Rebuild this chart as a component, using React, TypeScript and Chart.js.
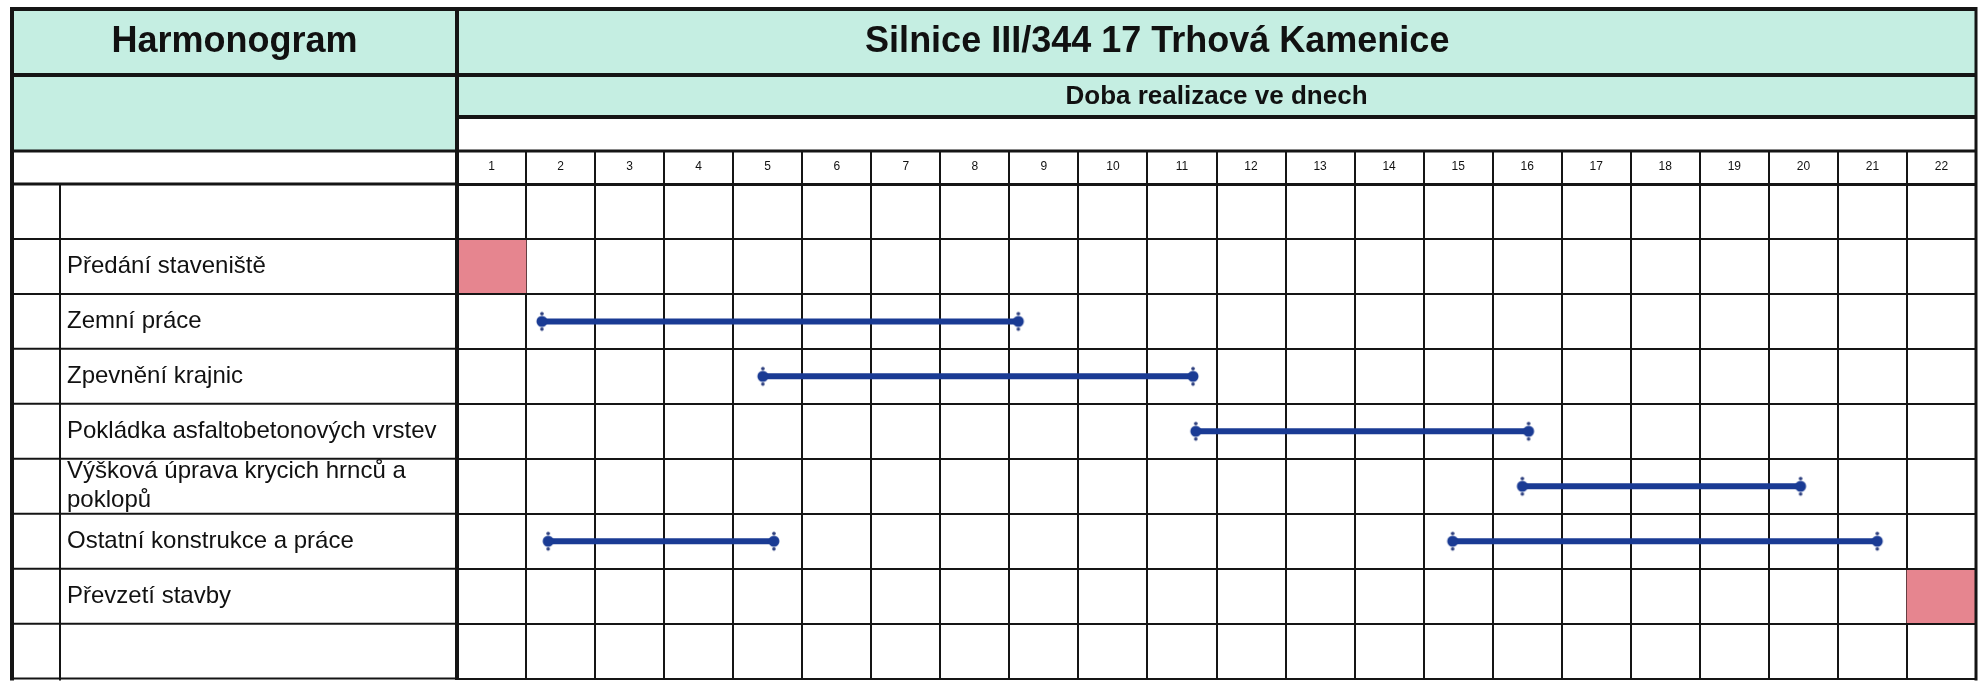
import React, { useEffect, useRef } from 'react';
import { Chart, registerables } from 'chart.js';

Chart.register(...registerables);

// ---------- data ----------
const leftHeader = 'Harmonogram';
const chartTitle = 'Silnice III/344 17 Trhová Kamenice';
const subTitle = 'Doba realizace ve dnech';

const dayLabels = ['1', '2', '3', '4', '5', '6', '7', '8', '9', '10', '11', '12', '13', '14', '15', '16', '17', '18', '19', '20', '21', '22'];

const rowLabels = [
  '',
  'Předání staveniště',
  'Zemní práce',
  'Zpevnění krajnic',
  'Pokládka asfaltobetonových vrstev',
  'Výšková úprava krycich hrnců a\npoklopů',
  'Ostatní konstrukce a práce',
  'Převzetí stavby',
  ' ',
];

// line (activity) bars: row, start day-position, end day-position
const barTasks = [
  'Zemní práce',
  'Zpevnění krajnic',
  'Pokládka asfaltobetonových vrstev',
  'Výšková úprava krycich hrnců a\npoklopů',
  'Ostatní konstrukce a práce',
  'Ostatní konstrukce a práce',
];
const barStarts = [1.23, 4.43, 10.7, 15.43, 1.32, 14.42];
const barEnds = [8.13, 10.66, 15.52, 19.46, 4.59, 20.57];

// filled milestone cells
const milestoneTasks = ['Předání staveniště', 'Převzetí stavby'];
const milestoneStarts = [0, 21];
const milestoneEnds = [1, 22];

// ---------- styles ----------
const FONT = '"Liberation Sans", Arial, Helvetica, sans-serif';
const TEAL = '#c5eee2';
const PINK = '#e6858f';
const BLUE = '#1a3b94';
const INK = '#151515';

Chart.defaults.font.family = FONT;

function makeMarker(): HTMLCanvasElement {
  const mk = document.createElement('canvas');
  mk.width = 16;
  mk.height = 22;
  const c = mk.getContext('2d')!;
  c.fillStyle = BLUE;
  c.beginPath();
  c.arc(8, 11, 5.5, 0, Math.PI * 2);
  c.fill();
  c.fillStyle = '#2d3f7e';
  c.beginPath();
  c.arc(8, 3.2, 1.8, 0, Math.PI * 2);
  c.fill();
  c.beginPath();
  c.arc(8, 18.8, 1.8, 0, Math.PI * 2);
  c.fill();
  return mk;
}

const tablePlugin = {
  id: 'tableFrame',
  beforeDraw(chart: any) {
    const { ctx, width, height, chartArea } = chart;
    const L = 12;
    const M = chartArea.left;
    const R = chartArea.right;
    ctx.save();
    ctx.fillStyle = '#ffffff';
    ctx.fillRect(0, 0, width, height);
    ctx.fillStyle = TEAL;
    ctx.fillRect(L, 8, M - L, 151 - 8);
    ctx.fillRect(M, 8, R - M, 117 - 8);
    ctx.restore();
  },
  afterDraw(chart: any) {
    const { ctx, chartArea } = chart;
    const yScale = chart.scales.y;
    const L = 12;
    const M = chartArea.left;
    const R = chartArea.right;
    const B = chartArea.bottom;
    const T = chartArea.top;
    ctx.save();
    ctx.strokeStyle = INK;
    const line = (x1: number, y1: number, x2: number, y2: number, w: number) => {
      ctx.lineWidth = w;
      ctx.beginPath();
      ctx.moveTo(x1, y1);
      ctx.lineTo(x2, y2);
      ctx.stroke();
    };
    // header horizontal lines
    line(L - 2, 9, R + 1, 9, 4);
    line(L, 75, R, 75, 4);
    line(M, 117, R, 117, 4);
    line(L, 151, R, 151, 3);
    // verticals
    line(L, 7, L, B + 2, 4);
    line(M, 7, M, T, 4);
    line(R, 7, R, B + 2, 3);
    line(60, T, 60, B + 2, 2);
    // left-column row separators from the y scale
    for (let i = 0; i <= rowLabels.length; i++) {
      const y = yScale.getPixelForValue(i - 0.5);
      line(L, y, M, y, i === 0 ? 3 : 2);
    }
    // header texts
    ctx.fillStyle = '#111';
    ctx.textAlign = 'center';
    ctx.textBaseline = 'middle';
    ctx.font = `bold 36px ${FONT}`;
    ctx.fillText(leftHeader, (L + M) / 2, 42);
    ctx.fillText(chartTitle, M + (R - M) * 0.461, 42);
    ctx.font = `bold 26px ${FONT}`;
    ctx.fillText(subTitle, (M + R) / 2, 97);
    ctx.restore();
  },
};

export default function App() {
  const ref = useRef<HTMLCanvasElement>(null);

  useEffect(() => {
    if (!ref.current) return;
    const marker = makeMarker();
    const gridColor = (ctx: any) =>
      ctx.tick && Number.isInteger(ctx.tick.value) ? INK : 'rgba(0,0,0,0)';

    const datasets: any[] = [
      {
        type: 'bar',
        indexAxis: 'y',
        data: milestoneTasks.map((t, i) => ({ x: [milestoneStarts[i], milestoneEnds[i]], y: t })),
        backgroundColor: PINK,
        borderWidth: 0,
        barPercentage: 1,
        categoryPercentage: 1,
        order: 2,
      },
      ...barTasks.map((t, i) => ({
        type: 'line',
        data: [
          { x: barStarts[i], y: t },
          { x: barEnds[i], y: t },
        ],
        borderColor: BLUE,
        backgroundColor: BLUE,
        borderWidth: 6,
        borderCapStyle: 'butt',
        pointStyle: marker,
        pointRadius: 6,
        fill: false,
        tension: 0,
        order: 1,
      })),
    ];

    const chart = new Chart(ref.current, {
      type: 'line',
      data: { datasets },
      options: {
        animation: false,
        responsive: false,
        events: [],
        layout: { padding: { top: 151, left: 67, right: 1, bottom: 1 } },
        plugins: {
          legend: { display: false },
          tooltip: { enabled: false },
          title: { display: false },
        },
        scales: {
          x: {
            type: 'linear',
            position: 'top',
            min: 0,
            max: dayLabels.length,
            afterBuildTicks: (s: any) => {
              const t: any[] = [];
              for (let i = 0; i <= dayLabels.length; i++) {
                t.push({ value: i });
                if (i < dayLabels.length) t.push({ value: i + 0.5 });
              }
              s.ticks = t;
            },
            afterFit: (s: any) => {
              s.height = 33;
            },
            grid: {
              color: gridColor,
              tickColor: gridColor,
              lineWidth: 2,
              tickWidth: 2,
              drawTicks: true,
              tickLength: 33,
            },
            border: { display: true, color: INK, width: 3 },
            ticks: {
              autoSkip: false,
              maxRotation: 0,
              minRotation: 0,
              padding: -23,
              color: '#111',
              font: { size: 12, family: FONT },
              callback: (v: any) =>
                Number.isInteger(v) ? '' : dayLabels[Math.floor(v)],
            },
          },
          y: {
            type: 'category',
            labels: rowLabels,
            offset: true,
            afterFit: (s: any) => {
              s.width = 390;
            },
            grid: {
              offset: true,
              color: INK,
              lineWidth: 2,
              drawTicks: false,
              z: 1,
            },
            border: { display: true, color: INK, width: 4, z: 1 },
            ticks: {
              autoSkip: false,
              crossAlign: 'far',
              padding: 0,
              color: '#111',
              font: { size: 24, family: FONT, lineHeight: 1.2 },
              callback: function (this: any, v: any) {
                const l = this.getLabelForValue(v);
                return l.includes('\n') ? l.split('\n') : l;
              },
            },
          },
        },
      } as any,
      plugins: [tablePlugin],
    });
    return () => chart.destroy();
  }, []);

  return (
    <div style={{ position: 'fixed', left: 0, top: 0, width: 1988, height: 693, background: '#fff' }}>
      <canvas ref={ref} width={1988} height={693} style={{ display: 'block', width: 1988, height: 693 }} />
    </div>
  );
}
